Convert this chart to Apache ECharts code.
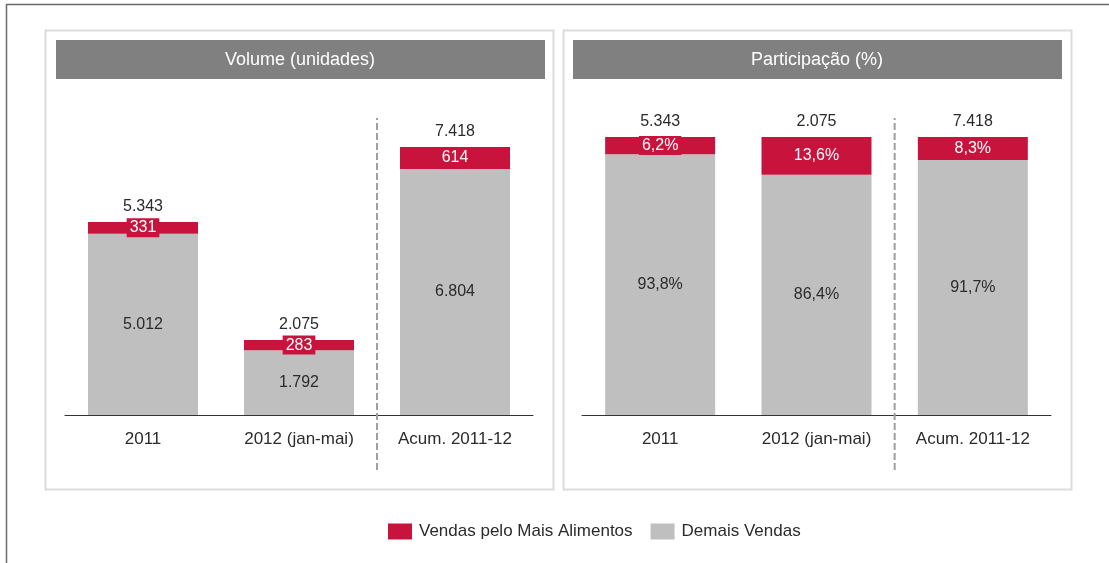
<!DOCTYPE html>
<html>
<head>
<meta charset="utf-8">
<script src="https://cdn.jsdelivr.net/npm/echarts@6/dist/echarts.min.js"></script>
<style>
html,body{margin:0;padding:0;background:#fff;}
#main{width:1109px;height:563px;}
</style>
</head>
<body>
<div id="main"></div>
<script>
// ---- data ----
var categories = ['2011', '2012 (jan-mai)', 'Acum. 2011-12'];
var maisAlimentosVol = [331, 283, 614];
var demaisVol = [5012, 1792, 6804];
var totals = [5343, 2075, 7418];
var maisAlimentosPct = [6.2, 13.6, 8.3];
var demaisPct = [93.8, 86.4, 91.7];
var panelTitles = ['Volume (unidades)', 'Participação (%)'];
var legendNames = ['Vendas pelo Mais Alimentos', 'Demais Vendas'];

var RED = '#C8133C';
var GRAY = '#BFBFBF';
var FONT = '"Liberation Sans", Arial, sans-serif';

function fmtInt(v) {
  return String(Math.round(v)).replace(/\B(?=(\d{3})+(?!\d))/g, '.');
}
function fmtPct(v) {
  return v.toFixed(1).replace('.', ',') + '%';
}

var chart = echarts.init(document.getElementById('main'), null, {renderer: 'canvas'});

function barSeries(name, data, xi, color, labelOpt) {
  return {
    name: name, type: 'bar', stack: 's' + xi, xAxisIndex: xi, yAxisIndex: xi,
    data: data, barWidth: 110, itemStyle: {color: color},
    label: labelOpt, emphasis: {disabled: true}, silent: true
  };
}

function grayLabel(fmt) {
  return {show: true, position: 'inside', color: '#2b2b2b', fontSize: 16, fontFamily: FONT,
    formatter: function (p) { return fmt(p.value); }};
}
function redLabel(fmt) {
  return {show: true, position: 'inside', color: '#fff', fontSize: 16, fontFamily: FONT,
    backgroundColor: RED, padding: [2, 3, 1, 3],
    formatter: function (p) { return fmt(p.value); }};
}
function totalLabel() {
  return {show: true, position: 'top', distance: 7, color: '#2b2b2b', fontSize: 16, fontFamily: FONT,
    formatter: function (p) { return fmtInt(totals[p.dataIndex]); }};
}

var zeros = totals.map(function () { return 0; });

var option = {
  animation: false,
  textStyle: {fontFamily: FONT},
  title: [
    {text: panelTitles[0], left: 300, top: 51, textAlign: 'center', padding: 0,
      textStyle: {color: '#fff', fontSize: 18, fontWeight: 'normal', fontFamily: FONT}},
    {text: panelTitles[1], left: 817, top: 51, textAlign: 'center', padding: 0,
      textStyle: {color: '#fff', fontSize: 18, fontWeight: 'normal', fontFamily: FONT}}
  ],
  legend: {
    data: legendNames, left: 388, top: 523, padding: 0, itemWidth: 24, itemHeight: 16, itemGap: 18,
    icon: 'rect', selectedMode: false,
    textStyle: {color: '#2b2b2b', fontSize: 17, fontFamily: FONT, padding: [0, 0, 0, 2]}
  },
  graphic: [
    {type: 'line', shape: {x1: 6, y1: 4.5, x2: 1109, y2: 4.5}, style: {stroke: '#6b6b6b', lineWidth: 1.5}, z: -10},
    {type: 'line', shape: {x1: 6.5, y1: 4, x2: 6.5, y2: 563}, style: {stroke: '#6b6b6b', lineWidth: 1.5}, z: -10},
    {type: 'rect', shape: {x: 45.5, y: 30.5, width: 508, height: 459}, style: {fill: '#fff', stroke: '#dcdcdc', lineWidth: 2}, z: -10},
    {type: 'rect', shape: {x: 563.5, y: 30.5, width: 508, height: 459}, style: {fill: '#fff', stroke: '#dcdcdc', lineWidth: 2}, z: -10},
    {type: 'rect', shape: {x: 56, y: 40, width: 489, height: 39}, style: {fill: '#808080'}, z: -5},
    {type: 'rect', shape: {x: 573, y: 40, width: 489, height: 39}, style: {fill: '#808080'}, z: -5}
  ],
  grid: [
    {left: 65, width: 468, top: 115, height: 300},
    {left: 582, width: 469, top: 137, height: 278},
    {left: 65, width: 468, top: 118, height: 352},
    {left: 582, width: 469, top: 118, height: 352}
  ],
  xAxis: [
    {type: 'category', gridIndex: 0, data: categories,
      axisLine: {lineStyle: {color: '#333', width: 1}}, axisTick: {show: false},
      axisLabel: {color: '#2b2b2b', fontSize: 17, margin: 16, fontFamily: FONT}},
    {type: 'category', gridIndex: 1, data: categories,
      axisLine: {lineStyle: {color: '#333', width: 1}}, axisTick: {show: false},
      axisLabel: {color: '#2b2b2b', fontSize: 17, margin: 16, fontFamily: FONT}},
    {type: 'value', gridIndex: 2, min: 0, max: 3, show: false},
    {type: 'value', gridIndex: 3, min: 0, max: 3, show: false}
  ],
  yAxis: [
    {type: 'value', gridIndex: 0, min: 0, max: 8300, show: false},
    {type: 'value', gridIndex: 1, min: 0, max: 100, show: false},
    {type: 'value', gridIndex: 2, min: 0, max: 1, show: false},
    {type: 'value', gridIndex: 3, min: 0, max: 1, show: false}
  ],
  series: [
    barSeries(legendNames[1], demaisVol, 0, GRAY, grayLabel(fmtInt)),
    barSeries(legendNames[0], maisAlimentosVol, 0, RED, redLabel(fmtInt)),
    barSeries('total0', zeros, 0, 'rgba(0,0,0,0)', totalLabel()),
    barSeries(legendNames[1], demaisPct, 1, GRAY, grayLabel(fmtPct)),
    barSeries(legendNames[0], maisAlimentosPct, 1, RED, redLabel(fmtPct)),
    barSeries('total1', zeros, 1, 'rgba(0,0,0,0)', totalLabel()),
    {type: 'line', xAxisIndex: 2, yAxisIndex: 2, data: [[2, 0], [2, 1]], symbol: 'none', silent: true,
      lineStyle: {color: '#a0a0a0', width: 2, type: [7, 3]}},
    {type: 'line', xAxisIndex: 3, yAxisIndex: 3, data: [[2, 0], [2, 1]], symbol: 'none', silent: true,
      lineStyle: {color: '#a0a0a0', width: 2, type: [7, 3]}}
  ]
};
chart.setOption(option);
</script>
</body>
</html>
